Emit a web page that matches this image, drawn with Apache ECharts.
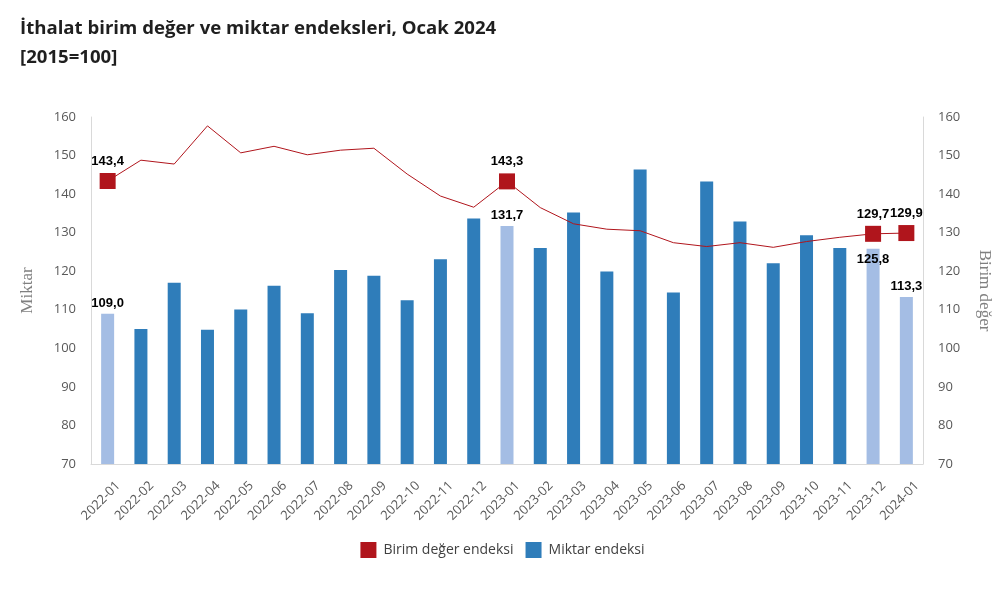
<!DOCTYPE html>
<html><head><meta charset="utf-8">
<script src="https://cdn.jsdelivr.net/npm/echarts@6/dist/echarts.min.js"></script>
<style>html,body{margin:0;padding:0;background:#fff}#c{width:1005px;height:597px}</style>
</head><body><div id="c"></div>
<script>
var categories = ['2022-01','2022-02','2022-03','2022-04','2022-05','2022-06','2022-07','2022-08','2022-09','2022-10','2022-11','2022-12','2023-01','2023-02','2023-03','2023-04','2023-05','2023-06','2023-07','2023-08','2023-09','2023-10','2023-11','2023-12','2024-01'];
var miktar = [109.0,105.0,117.0,104.8,110.1,116.2,109.1,120.3,118.8,112.5,123.1,133.7,131.7,126.0,135.2,119.9,146.4,114.5,143.3,132.9,122.1,129.3,126.0,125.8,113.3];
var birimDeger = [143.4,148.8,147.8,157.7,150.7,152.4,150.2,151.4,151.9,145.2,139.5,136.6,143.3,136.5,132.3,130.9,130.5,127.4,126.4,127.4,126.2,127.7,128.8,129.7,129.9];
var highlighted = [0,12,23,24];
var axisTicks = [70,80,90,100,110,120,130,140,150,160];

var RED='#B0151C', DARK='#2F7DBA', LIGHT='#A4BDE4';
function fmt(v){return v.toFixed(1).replace('.',',');}
var labelFont = {fontFamily:'Liberation Sans, Arial', fontWeight:'bold', fontSize:13, color:'#000'};

var barData = miktar.map(function(v,i){
  var h = highlighted.indexOf(i)>=0;
  var o = {value:v, itemStyle:{color:h?LIGHT:DARK}};
  if(h){ o.label = Object.assign({show:true, position:(i===23?'insideTop':'top'), distance:4, formatter:function(p){return fmt(p.value);}}, labelFont); }
  return o;
});
var lineData = birimDeger.map(function(v,i){
  var h = highlighted.indexOf(i)>=0;
  if(h) return {value:v, symbol:'rect', symbolSize:16, label:Object.assign({show:true, position:'top', distance:5, formatter:function(p){return fmt(p.value);}}, labelFont)};
  return {value:v, symbol:'none'};
});

var axisLabelStyle = {color:'#595959', fontFamily:'Open Sans, Noto Sans, sans-serif', fontSize:13};
var chart = echarts.init(document.getElementById('c'));
chart.setOption({
  animation:false,
  title:{text:'İthalat birim değer ve miktar endeksleri, Ocak 2024\n[2015=100]', left:15, top:9,
    textStyle:{fontFamily:'Open Sans, Noto Sans, sans-serif', fontWeight:'bold', fontSize:18.6, color:'#1f1f1f', lineHeight:29}},
  legend:{bottom:34, left:'center', itemWidth:16, itemHeight:16, itemGap:12, icon:'rect',
    textStyle:{color:'#404040', fontFamily:'Open Sans, Noto Sans, sans-serif', fontSize:14, padding:[0,0,0,2]},
    data:['Birim değer endeksi','Miktar endeksi']},
  grid:{left:91, right:82, top:117, bottom:133},
  xAxis:{type:'category', data:categories, boundaryGap:true,
    axisLine:{lineStyle:{color:'#D9D9D9'}}, axisTick:{show:false},
    axisLabel:Object.assign({rotate:45, interval:0, margin:9, verticalAlign:'top', lineHeight:30}, axisLabelStyle, {fontSize:13})},
  yAxis:[
    {type:'value', min:axisTicks[0], max:axisTicks[axisTicks.length-1], interval:10, position:'left',
     name:'Miktar', nameLocation:'middle', nameGap:55,
     nameTextStyle:{fontFamily:'Liberation Serif, Times New Roman, serif', fontSize:17, color:'#808080'},
     axisLine:{show:true, lineStyle:{color:'#D9D9D9'}}, axisTick:{show:false}, splitLine:{show:false},
     axisLabel:Object.assign({margin:15}, axisLabelStyle)},
    {type:'value', min:axisTicks[0], max:axisTicks[axisTicks.length-1], interval:10, position:'right',
     name:'Birim değer', nameLocation:'middle', nameGap:53, nameRotate:-90,
     nameTextStyle:{fontFamily:'Liberation Serif, Times New Roman, serif', fontSize:17, color:'#808080'},
     axisLine:{show:true, lineStyle:{color:'#D9D9D9'}}, axisTick:{show:false}, splitLine:{show:false},
     axisLabel:Object.assign({margin:15}, axisLabelStyle)}
  ],
  series:[
    {name:'Miktar endeksi', type:'bar', yAxisIndex:0, data:barData, barWidth:13, itemStyle:{color:DARK}, z:2},
    {name:'Birim değer endeksi', type:'line', yAxisIndex:1, data:lineData, itemStyle:{color:RED},
     lineStyle:{color:RED, width:1}, z:3}
  ]
});
</script></body></html>
